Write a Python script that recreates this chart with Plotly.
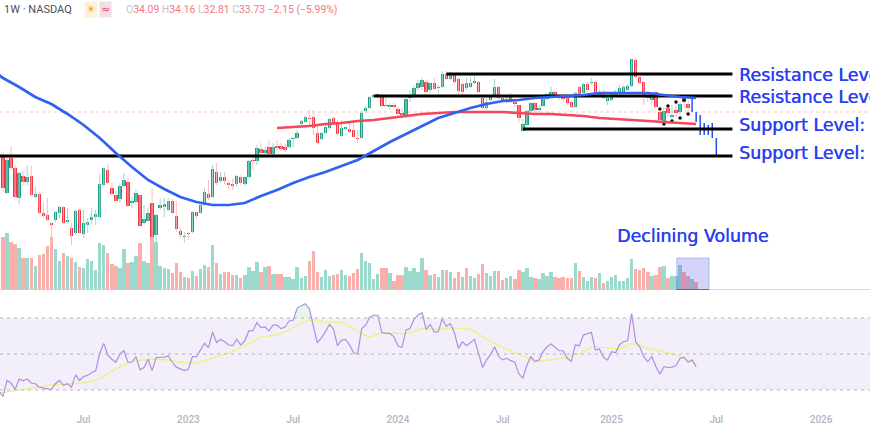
import pandas as pd
import plotly.graph_objects as go

START = pd.Timestamp("2022-02-14")

# weekly candles, starting at START
opens = [34,26.4,33.4,31.4,25.4,29.8,28.6,29.8,25.6,26.2,
 22.4,22,20.4,21,22.4,23.6,20.6,19.4,18.4,23,
 18.2,20,21,21.6,21.6,28,31,27.4,26,25.2,
 27.8,28.6,24.4,24.6,26,20.4,20.8,24.4,18,23.4,
 23.6,23,24.8,21.8,18.8,17.6,18.4,18.6,22.6,22.4,
 24,26.2,25.6,30.6,28.8,29.6,28.4,28.2,28.2,29.6,
 28.2,29.6,33,32.8,35.2,34.4,35.6,34.2,35.8,35.8,
 35.6,35.6,37.2,37.4,40.2,40.6,41.4,41.6,38.4,37.2,
 38.4,39.4,41.4,40.6,37.8,39.2,39.2,39,37.4,37.4,
 42.8,43.4,45.6,45.8,45.8,44,43.6,44,43.2,42.4,
 41.6,45.4,45.6,47.4,47.6,48.6,47,48.4,47.4,47.6,
 50.2,49.2,50.2,49.2,48.2,47.4,47.6,48.4,48.6,45.4,
 43.4,45,45.8,47.6,45.4,44.6,46,44.6,44,38.8,
 40,42.8,44.4,43,43.8,45.2,46,46.6,46,45.8,
 45.4,44.6,43.6,47.6,46.4,48.2,48.4,48.6,45.6,46.6,
 44.8,45,46,46.4,46.6,47,47.8,53,49.6,48.6,
 45.8,45,46.6,42.6,40.4,43.4,41.6,43,42.6,45.4,
 44.2]
closes = [27.4,33,31.4,25.6,30.4,28.6,29.6,26,26.2,22.4,
 21.8,21,20,22.6,23.6,20.4,21,17.8,22.8,18.4,
 20.4,20.6,21.6,22.2,28.2,31.4,28.4,26.2,24.8,27.8,
 29,23.8,24.8,26.4,19.8,21.2,22.4,17.6,22,24,
 24.2,24.8,22.4,19.2,18,17.8,18.2,22.6,21.8,24,
 26.6,25.4,31.2,28.4,29.6,28.8,28,27.8,29.8,28.4,
 29.6,32.8,32.8,35.4,34.4,35,34.2,35.6,35.4,35.2,
 35,37,37.4,38.4,40.8,41.6,41.2,39.4,36.4,38.4,
 39.6,41.2,40.4,38.2,39.4,39.6,38.6,37.6,37.2,42.4,
 43.4,45.6,46,46.2,43.8,43.8,44,43.6,42.2,42,
 45.2,45.8,47.4,48.4,49,46.6,48.4,47.2,47.6,50.2,
 49.2,50.4,48.6,46.8,46.6,48.4,48.4,48.8,46.6,43.4,
 44.6,45.8,47.6,45.4,44.6,45.2,44.6,44.2,41.4,40.2,
 42.8,44.4,43,43.4,45.2,46.2,46.6,45.8,45.6,45.2,
 44.4,43.6,46.4,45.8,48.2,47,48.6,46.4,46.6,45.4,
 45.4,46.2,46.6,47.4,47.6,47.8,53.2,49.6,48.4,45.6,
 45.4,46.2,43.6,41,42.8,42.4,42,42.4,44.2,44.6,
 43.4]
highs = [34.6,33.4,35.8,32,30.6,30.8,32,31.8,27.6,26.6,
 24.4,25.4,20.6,22.8,23.8,23.8,23.4,20.4,23,23.2,
 23,21.4,23.4,23,30.2,31.4,32.2,28.4,26.8,28.4,
 30.4,29.4,25.6,27,26.2,24,23.4,27.4,22.2,25.4,
 25.4,25.4,25.2,24.8,19.4,18.6,18.6,22.8,22.8,24.4,
 27.4,29,32,32.4,30.6,30.6,29,29.4,30,30,
 29.8,33,33.4,36,36.4,35.6,37,36.4,37,36.4,
 36.2,37.4,37.6,39,41,42,43,43,40,38.6,
 40,41.4,41.6,41,41,39.6,40.6,40.6,39,42.8,
 43.8,45.8,46.2,46.4,46.2,46,44.4,44.4,43.6,43.4,
 45.6,47,47.8,49,49.4,49,48.6,49.4,48,50.8,
 50.8,50.6,50.4,49.4,48.6,49.4,49.6,50,48.8,45.6,
 45.4,46,49.2,47.8,45.8,45.6,46.4,45,44,41.2,
 43,44.6,44.6,44,45.4,46.4,47.6,47,46.2,46,
 45.6,45,46.6,48,48.4,48.6,49.4,48.8,47,47,
 45.8,46.6,47,48,48,48.2,53.2,53.2,49.8,48.8,
 46.6,46.6,46.8,43.4,43.6,44.2,44,44.6,44.6,45.6,
 45]
lows = [26.6,26.2,31,25.4,24.2,27.8,28,25.8,25.4,22.2,
 21.4,20.8,16,20.6,21.4,20.2,20.2,16,18.2,18.2,
 17.4,18.4,20.2,20,21.4,27.8,28.2,25.8,24.4,24.4,
 27.4,23.6,23.4,24,19.6,20,20.6,16,16.4,23,
 21.6,22.8,22.2,18.6,17.4,16.4,17,18.4,21.2,22.2,
 23.8,25,25.4,28,28.4,28.2,27,27,27.6,28,
 27.8,29.2,31,32,34,33.8,33.6,33.8,35,34.8,
 34.6,35.4,35.6,37.2,39.6,40.4,40,38,36.2,37,
 38.2,39,40.2,38,37.6,39,38.4,37.4,36.4,37.2,
 42.4,43.2,45.4,45.4,43.4,43.6,43,43.4,42,41.8,
 41.4,44.6,45.4,47,47,46.4,46.4,47,46.4,47.4,
 49,49,48.2,46,46,47,47.4,48.2,46.4,43.2,
 43,44.8,45.6,45.2,44.4,44.4,44.4,43.6,40.4,38.8,
 39.6,42.6,42.6,42.6,43.6,45,45.8,45.6,45,44.6,
 44,43.4,43.4,45.6,46.2,46.6,48,46.2,45.4,45.2,
 44,44.8,45.6,46,46.4,46.8,47.6,49.4,48.2,44,
 44.6,44,43.4,40.6,40,41.4,41,41.4,42,43.6,
 42.2]

# the last weeks show up only as thin blue strokes
blue_weeks = [171, 172, 173, 174, 175, 176, 177]
blue_highs = [45.4, 42.6, 42, 40.4, 40, 40.4, 37.4]
blue_lows = [42.6, 40.6, 38, 38, 38, 37.4, 34]

dot_weeks = [163, 164, 165, 166, 167, 168, 169, 170]
dot_prices = [43.2, 40.2, 43.8, 40.8, 44.6, 41.4, 45, 42.2]

volume = [53,57,48,46,42,32,32,32,24,35,
 36,44,53,41,29,37,34,32,28,23,
 22,31,29,20,47,45,37,26,24,22,
 41,27,28,34,47,29,27,55,48,24,
 22,21,17,27,18,13,12,19,14,21,
 25,23,45,27,16,18,18,15,15,12,
 15,23,19,28,18,23,24,16,16,16,
 13,13,11,23,12,14,29,39,18,13,
 20,14,15,16,20,15,14,17,21,37,
 29,27,11,16,22,22,17,9,15,15,
 23,19,22,18,32,20,15,16,13,20,
 20,18,12,18,13,22,14,12,16,26,
 17,14,19,19,10,12,14,11,20,18,
 22,13,12,11,17,14,18,13,12,13,
 12,12,27,19,13,9,13,12,17,7,
 9,13,15,9,9,12,31,21,20,22,
 18,14,15,23,24,12,14,14,25,18,
 14,11,8]
volume_dirs = ("rgrrgrgrgr" "rrrggrgrgr" "ggggggrrrg" "grggrggrgg" "ggrrrgrgrg"
               "grgrgrrrgr" "ggggrgrgrr" "gg"
               "ggggrrrggg" "rrggrrrggg" "ggrrgrrrgg" "gggrgrggrg" "rrgrggrrgg"
               "grrggrrggg" "rggggrrrrr" "grgggrgrgg" "gggggrrrrg" "rrgrgggrrg" "r")

# 50 and 200 week averages, read every few weeks
ma50_weeks = [-1,0,4,8,12,16,20,24,28,32,36,40,44,48,52,56,60,64,68,72,76,80,84,88,92,
              96,100,104,108,112,116,120,124,128,132,136,140,144,148,152,156,160,164,168,172]
ma50 = [50,49.4,47.6,45.6,44.2,42.2,40,37.4,34.4,31.6,29,27.2,25.6,24.6,24,24,24.4,25.8,27,28.4,29.6,30.6,31.8,33,34.8,
        36.6,38.2,39.8,41.4,42.4,43.4,44.2,44.8,45,45.4,45.6,45.8,46,46.4,46.4,46.4,46.4,46,45.6,45.4]
ma200_weeks = [68,72,76,80,84,88,92,96,100,104,108,112,116,120,124,128,132,136,140,144,148,152,156,160,164,168,172]
ma200 = [39.4,39.6,39.8,40.2,40.4,40.8,41,41.4,41.8,42.2,42.4,42.6,42.6,42.6,42.6,42.4,42.2,42.2,42,41.8,41.4,41.2,41,40.8,40.6,40.4,40.2]

# first value belongs to the week before START
rsi = [29.3,26.5,35.3,33.9,30.2,36.1,35.1,36.1,33.9,33.5,31.5,31.1,30.7,30.2,33.5,35.3,32.6,33.5,31.6,38.4,
       35.3,37.5,38.1,39.7,40.6,50.4,55.9,49.4,47.1,45.4,50,51.8,45.4,45.4,48.5,41.2,42.5,47.1,40.8,48,
       48.2,48.2,48.9,45.4,42.7,41.6,40.8,41.7,48.5,48.5,52.2,55.9,53.5,62.3,56.4,58.1,56.8,55,54.6,58.1,
       55,57.3,62.8,62.8,67.4,64.7,65,62.8,66,66,64.1,65,68.3,
       68.7,75.5,76.6,77.9,75.1,66,56.2,59,62.3,66.5,63.8,54.6,57.7,58.1,55,50.7,50,64.1,66,70.6,71.5,71.5,
       61.9,61.4,61.4,59.5,54.4,53.7,63.2,64.1,69.1,71.8,72.8,63.6,66.5,62.3,62.3,69.6,65.4,66.9,61.9,53.1,
       56.8,54.6,56.4,58.1,50.4,42.5,46.7,49.8,54,48.5,46.7,47.6,46.3,45.4,39,36.6,43.9,48.5,45.8,46.7,51.3,
       54,55.5,53.7,51.8,51.8,47.6,45.8,55,54.6,
       60.5,61.4,61.9,52.2,52.8,48,46.7,51.3,50.7,55.3,56.8,57.3,72.4,56.8,54,48.5,45.8,48.5,43,38.8,43,
       42.5,42.7,43.6,47.6,48.2,45.4,46.7,43]
rsi_ma_weeks = [-1,4,8,12,16,20,24,28,32,36,40,44,48,52,56,60,64,68,71,74,76,77,80,84,88,91,94,100,104,108,112,
                116,120,124,128,132,136,140,143,146,149,153,156,160,165,168,172]
rsi_ma = [28.3,29.8,31.3,32.9,33.5,33.9,36.2,41.7,45.8,47.1,46.9,45.4,45,47.6,50.5,54.6,59.2,60.8,63.2,67.4,68.5,69.1,67.8,67.6,62.7,59.2,61.7,61.2,64.1,63.8,64.5,
          63.8,58.3,53.7,49.8,46,46.7,48,50.2,53.7,53.7,52.8,55.9,53.1,50.7,48.5,44.3]

tick_dates = ["2022-07-04", "2023-01-02", "2023-07-03", "2024-01-01", "2024-07-01", "2025-01-06", "2025-07-07", "2026-01-05"]
tick_labels = ["Jul", "2023", "Jul", "2024", "Jul", "2025", "Jul", "2026"]

resistance_upper = 50.2
resistance_lower = 45.8
support_upper = 39.2
support_lower = 33.8
last_price_line = 42.6

BLUE = "#2b3ff2"
GREEN = "#1f9d85"
RED = "#f23645"
PX_PER_DAY = 4.03 / 7
H = 412  # height of the plot area above the date labels


def week(i):
    return START + pd.Timedelta(days=7 * i)


def frac(y_px):
    return 1 - y_px / H


def gaps(weeks, tops, bottoms):
    xs, ys = [], []
    for i, t, b in zip(weeks, tops, bottoms):
        xs += [week(i), week(i), None]
        ys += [t, b, None]
    return xs, ys


n = len(opens)
idx = list(range(n))
x_start = START - pd.Timedelta(days=3 / PX_PER_DAY)
x_end = x_start + pd.Timedelta(days=870 / PX_PER_DAY)
ms_per_px = 86400000 / PX_PER_DAY

fig = go.Figure()

# volume
vol_colors = ["#9bd9cc" if d == "g" else "#f9b0ab" for d in volume_dirs]
fig.add_trace(go.Bar(x=[week(i) for i in range(len(volume))], y=volume, marker_color=vol_colors,
                     marker_line_width=0, width=3.4 * ms_per_px, yaxis="y"))

# wicks
up = [i for i in idx if closes[i] >= opens[i]]
down = [i for i in idx if closes[i] < opens[i]]
for group, color in [(up, "#a8d6ca"), (down, "#fabcc0")]:
    xs, ys = gaps(group, [highs[i] for i in group], [lows[i] for i in group])
    fig.add_trace(go.Scatter(x=xs, y=ys, mode="lines", line=dict(color=color, width=1), yaxis="y2"))

# candle bodies
for group, color in [(up, GREEN), (down, RED)]:
    fig.add_trace(go.Bar(x=[week(i) for i in group],
                         y=[abs(closes[i] - opens[i]) for i in group],
                         base=[min(opens[i], closes[i]) for i in group],
                         marker_color=color, marker_line_width=0,
                         width=3.4 * ms_per_px, yaxis="y2"))

xs, ys = gaps(blue_weeks, blue_highs, blue_lows)
fig.add_trace(go.Scatter(x=xs, y=ys, mode="lines", line=dict(color="#2550e8", width=1.5), yaxis="y2"))
fig.add_trace(go.Scatter(x=[week(i) for i in dot_weeks], y=dot_prices, mode="markers",
                         marker=dict(color="#111111", size=3.5), yaxis="y2"))

# support and resistance
for level, first in [(resistance_upper, 110), (resistance_lower, 92), (support_upper, 129), (support_lower, -1)]:
    fig.add_trace(go.Scatter(x=[week(first), week(181)], y=[level, level], mode="lines",
                             line=dict(color="#000000", width=3), yaxis="y2"))

fig.add_trace(go.Scatter(x=[week(i) for i in ma200_weeks], y=ma200, mode="lines",
                         line=dict(color="#f4475a", width=2.7), yaxis="y2"))
fig.add_trace(go.Scatter(x=[week(i) for i in ma50_weeks], y=ma50, mode="lines",
                         line=dict(color="#2f62ee", width=2.7), yaxis="y2"))

# rsi pane
rsi_x = [week(i - 1) for i in range(len(rsi))]
fig.add_trace(go.Scatter(x=rsi_x, y=[70] * len(rsi), mode="lines", line=dict(width=0), yaxis="y3"))
fig.add_trace(go.Scatter(x=rsi_x, y=[max(r, 70) for r in rsi], mode="lines", line=dict(width=0),
                         fill="tonexty", fillcolor="rgba(170,225,190,0.3)", yaxis="y3"))
fig.add_trace(go.Scatter(x=[week(i) for i in rsi_ma_weeks], y=rsi_ma, mode="lines",
                         line=dict(color="#eef27f", width=1.4), yaxis="y3"))
fig.add_trace(go.Scatter(x=rsi_x, y=rsi, mode="lines",
                         line=dict(color="#b48de0", width=1.2), yaxis="y3"))

shapes = [
    dict(type="rect", xref="paper", x0=0, x1=1, yref="y3", y0=30, y1=70, fillcolor="#f2eefa",
         line_width=0, layer="below"),
    dict(type="line", xref="paper", x0=0, x1=1, yref="y2", y0=last_price_line, y1=last_price_line,
         line=dict(color="#f8c4c4", width=1, dash="dot"), layer="below"),
    dict(type="line", xref="paper", x0=0, x1=1, yref="y", y0=0, y1=0,
         line=dict(color="#c9cbd0", width=1.5)),
    dict(type="rect", xref="x", x0=week(167.2), x1=week(175.2), yref="y", y0=0, y1=32,
         fillcolor="rgba(60,60,225,0.22)", line=dict(color="rgba(60,60,225,0.3)", width=1)),
    dict(type="line", xref="x", x0=week(167.2), x1=week(175.2), yref="y", y0=0, y1=0,
         line=dict(color="#3b52ea", width=1.5)),
]
for level in [70, 50, 30]:
    shapes.append(dict(type="line", xref="paper", x0=0, x1=1, yref="y3", y0=level, y1=level,
                       line=dict(color="#b6b4c4", width=1, dash="3px,4px")))

label_font = dict(family="DejaVu Sans", size=17.4, color=BLUE, shadow="0.4px 0 0 " + BLUE)
annotations = []
for text, price in [("Resistance Level:", 50), ("Resistance Level:", 45.6),
                    ("Support Level:", 40), ("Support Level:", 34.4)]:
    annotations.append(dict(x=week(182.2), y=price, xref="x", yref="y2", text=text, showarrow=False,
                            xanchor="left", yanchor="middle", font=label_font))
annotations.append(dict(x=692.5 / 870, y=frac(236), xref="paper", yref="paper", text="Declining Volume",
                        showarrow=False, xanchor="center", yanchor="middle", font=label_font))
annotations.append(dict(x=2 / 870, y=frac(10), xref="paper", yref="paper", text="1W · NASDAQ",
                        showarrow=False, xanchor="left", yanchor="middle",
                        font=dict(family="Roboto", size=11, color="#4a4e59")))
annotations.append(dict(x=91 / 870, y=frac(10), xref="paper", yref="paper", text="☀", showarrow=False,
                        xanchor="center", yanchor="middle", bgcolor="#fdf2d9",
                        font=dict(family="DejaVu Sans", size=11, color="#f5a623")))
annotations.append(dict(x=105 / 870, y=frac(10), xref="paper", yref="paper", text="≈", showarrow=False,
                        xanchor="center", yanchor="middle", bgcolor="#f3dde6",
                        font=dict(family="DejaVu Sans", size=11, color="#e2557a")))
g = "<span style='color:#c3c5cc'>%s</span>"
ohlc = (g % "O" + "34.09 " + g % "H" + "34.16 " + g % "L" + "32.81 " + g % "C" + "33.73 −2.15 (−5.99%)")
annotations.append(dict(x=124 / 870, y=frac(10), xref="paper", yref="paper", text=ohlc, showarrow=False,
                        xanchor="left", yanchor="middle",
                        font=dict(family="Roboto", size=10.4, color="#f5777f")))

fig.update_layout(
    width=870, height=430,
    margin=dict(l=0, r=0, t=0, b=18),
    paper_bgcolor="white", plot_bgcolor="white",
    showlegend=False, barmode="overlay", bargap=0,
    shapes=shapes, annotations=annotations,
    xaxis=dict(range=[x_start, x_end], tickvals=tick_dates, ticktext=tick_labels, showgrid=False,
               zeroline=False, showline=False, ticks="", anchor="free", position=0,
               tickfont=dict(family="Roboto", size=10, color="#b2b5be", weight=500)),
    yaxis=dict(domain=[frac(290), 1], range=[0, 290], visible=False),
    yaxis2=dict(domain=[frac(290), 1], range=[7, 65], visible=False, overlaying="y"),
    yaxis3=dict(domain=[frac(410), frac(296)], range=[18.9, 82.2], visible=False),
)

fig.write_html("out.html", config=dict(displayModeBar=False), post_script="document.body.style.margin='0'")
